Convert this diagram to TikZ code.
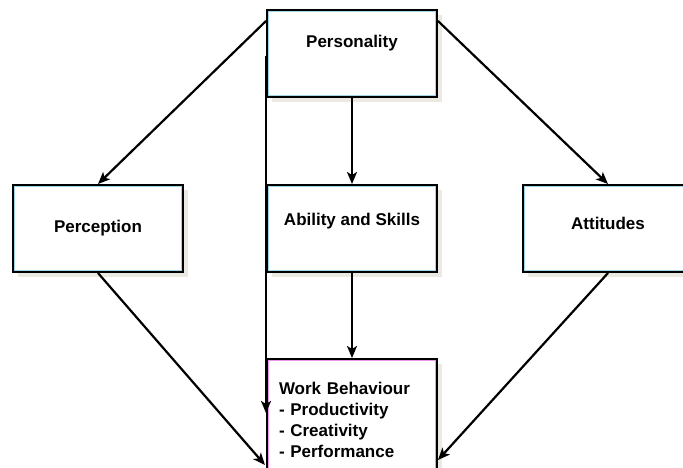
\documentclass[tikz,border=0pt]{standalone}
\usepackage{fontspec}
\setmainfont{Liberation Sans}
\usepackage{tikz}
\usetikzlibrary{shapes,arrows.meta,calc,positioning,shadows}
\usepackage{xcolor}
\definecolor{edgeblue}{RGB}{160,212,232}
\definecolor{edgepink}{RGB}{238,150,238}
\definecolor{shadowgray}{RGB}{236,233,226}

\begin{document}
\begin{tikzpicture}[
	  every node/.style={align=center,text=black,font=\bfseries\fontsize{17}{21}\selectfont},
	  box/.style={draw=black,line width=2pt,fill=white,minimum width=170pt,minimum height=87pt,inner sep=0pt,
	    general shadow={fill=shadowgray,shadow xshift=5pt,shadow yshift=-5pt},
	    path picture={\draw[#1,line width=1pt] ([shift={(1.8pt,-1.8pt)}]path picture bounding box.north west) rectangle ([shift={(-1.8pt,1.8pt)}]path picture bounding box.south east);}},
	  box/.default=edgeblue,
	  link/.style={-{Stealth[length=12pt,width=10pt,inset=3pt]},draw=black,line width=2.2pt}]

	  \useasboundingbox (0,0) rectangle (683pt,-467pt);

	  % Boxes
	  \node[box,text depth=24pt] (personality) at (352pt,-53.5pt) {Personality};
	  \node[box,text depth=18pt,below=86pt of personality] (ability) {Ability and Skills};
	  \node[box,left=82pt of ability] (perception) {Perception};
	  \node[box,text depth=11pt,right=84pt of ability] (attitudes) {Attitudes};
	  \node[box=edgepink,below=85pt of ability,minimum height=122pt,text width=146pt,align=left] (work) {Work Behaviour\\- Productivity\\- Creativity\\- Performance};

	  % Links
	  \draw[link] ($(personality.north west)+(0,-12pt)$) -- (perception.north);
	  \draw[link] ($(personality.north east)+(0,-12pt)$) -- (attitudes.north);
	  \draw[link] (personality) -- (ability);
	  \draw[link] (ability) -- (work);
	  \draw[link] ($(personality.south west)+(0,42pt)$) -- ($(work.north west)+(0,-55pt)$);
	  \draw[link] (perception.south) -- ($(work.north west)+(-1pt,-107pt)$);
	  \draw[link] (attitudes.south) -- ($(work.north east)+(0,-102pt)$);

\end{tikzpicture}
\end{document}
